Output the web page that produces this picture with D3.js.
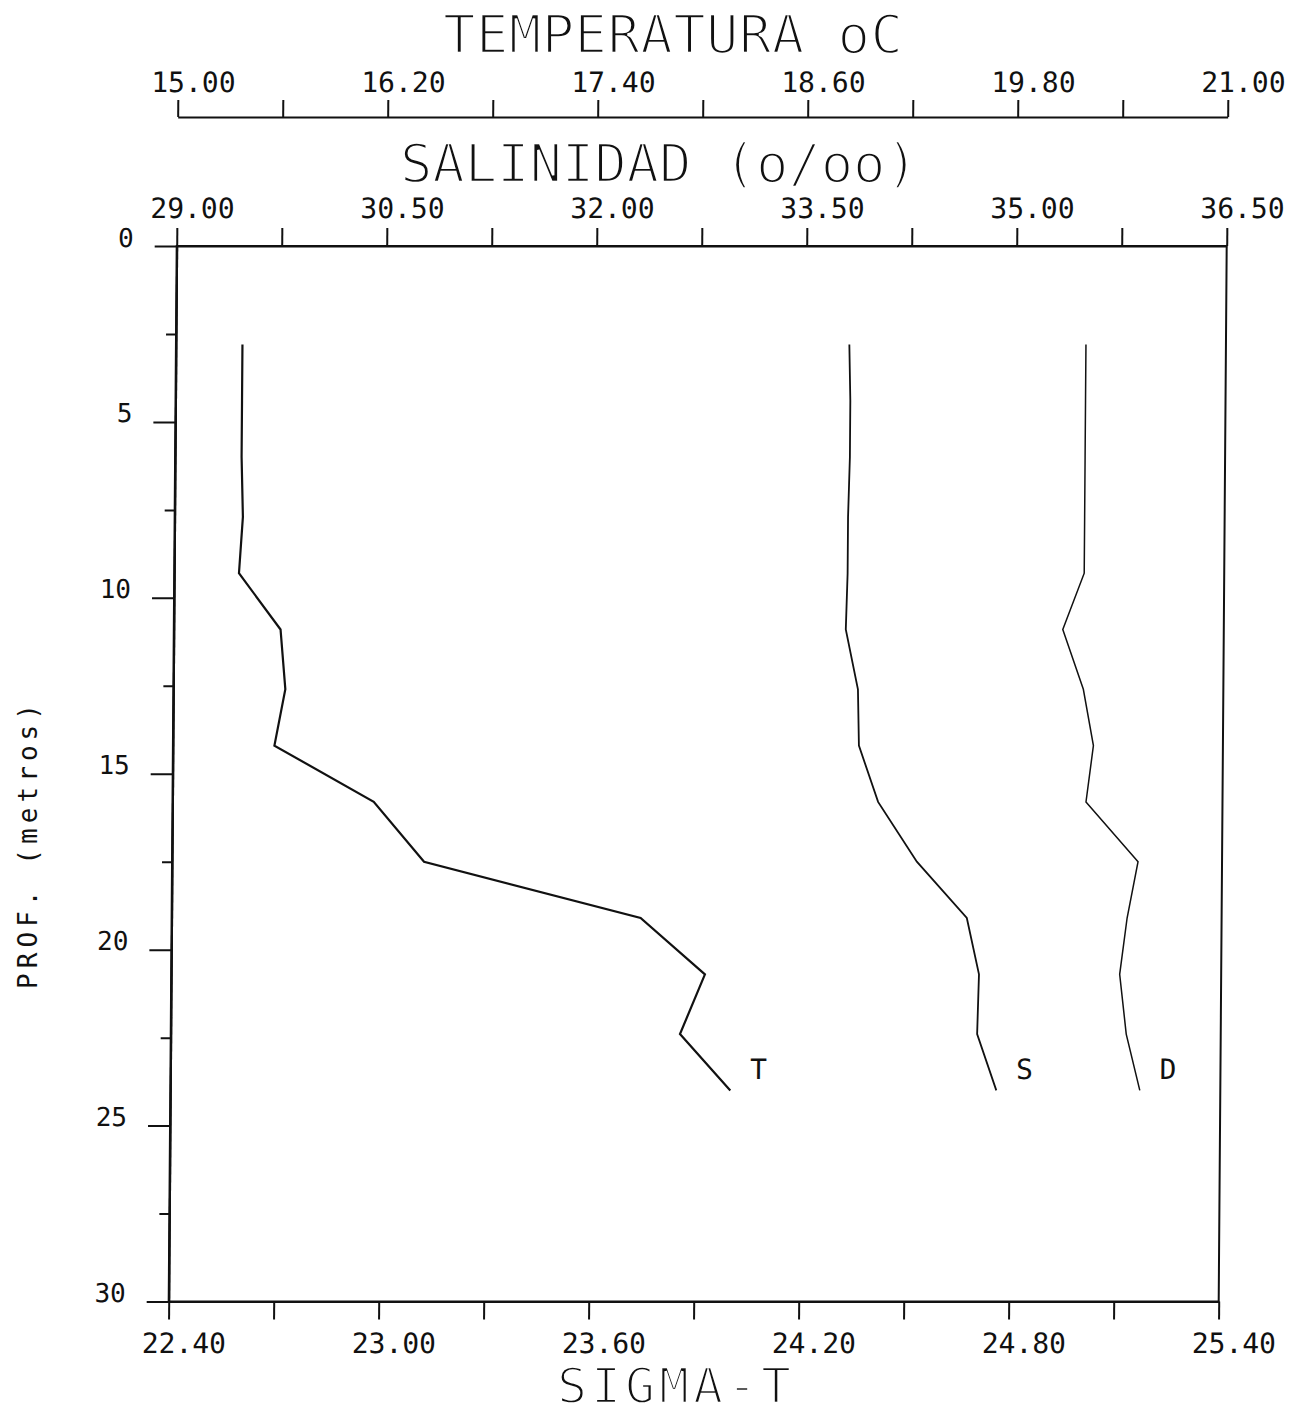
<!DOCTYPE html>
<html lang="es">
<head>
<meta charset="utf-8">
<title>Perfil de temperatura, salinidad y sigma-t</title>
<style>
  body { margin: 0; background: #fff; }
  svg text { font-family: "DejaVu Sans Mono", monospace; fill: #111; }
</style>
</head>
<body>
<svg id="chart"></svg>
<script src="https://cdn.jsdelivr.net/npm/d3@7"></script>
<script>
// profundidad (m) de cada lectura
var depth = [2.8, 4.4, 6.0, 7.7, 9.3, 10.9, 12.6, 14.2, 15.8, 17.5, 19.1, 20.7, 22.4, 24.0];
// T (oC), S (o/oo), sigma-t
var temperatura = [15.38, 15.38, 15.38, 15.39, 15.37, 15.61, 15.64, 15.58, 16.15, 16.44, 17.68, 18.05, 17.91, 18.20];
var salinidad = [33.81, 33.82, 33.82, 33.81, 33.81, 33.80, 33.89, 33.90, 34.04, 34.32, 34.68, 34.77, 34.76, 34.90];
var sigmaT = [25.00, 25.00, 25.00, 25.00, 25.00, 24.94, 25.00, 25.03, 25.01, 25.16, 25.13, 25.11, 25.13, 25.17];

var tempTicks = [15.00, 15.60, 16.20, 16.80, 17.40, 18.00, 18.60, 19.20, 19.80, 20.40, 21.00];
var salTicks = [29.00, 29.75, 30.50, 31.25, 32.00, 32.75, 33.50, 34.25, 35.00, 35.75, 36.50];
var sigmaTicks = [22.40, 22.70, 23.00, 23.30, 23.60, 23.90, 24.20, 24.50, 24.80, 25.10, 25.40];
var depthTicks = [0, 2.5, 5, 7.5, 10, 12.5, 15, 17.5, 20, 22.5, 25, 27.5, 30];

var width = 1302, height = 1416;
var W = 1050, H = 1055.5;
var marginLeft = 176.7, marginTop = 246;

var svg = d3.select("#chart")
  .attr("width", width)
  .attr("height", height);

// the plotted sheet is slightly skewed: bottom edge sits ~8px left of the top
var skew = Math.atan(-8 / H) * 180 / Math.PI;
var g = svg.append("g")
  .attr("transform", "translate(" + marginLeft + "," + marginTop + ") skewX(" + skew + ")");

var xT = d3.scaleLinear().domain([15, 21]).range([0, W]);
var xS = d3.scaleLinear().domain([29, 36.5]).range([0, W]);
var xD = d3.scaleLinear().domain([22.4, 25.4]).range([0, W]);
var y = d3.scaleLinear().domain([0, 30]).range([0, H]);

var fmt = d3.format(".2f");
function every2(d, i) { return i % 2 ? "" : fmt(d); }

function styleAxis(sel) {
  sel.attr("font-family", "DejaVu Sans Mono").attr("font-size", 28);
  sel.selectAll("path, line").attr("stroke", "#111").attr("stroke-width", 2);
  sel.selectAll("text").attr("fill", "#111");
}

// frame
g.append("rect")
  .attr("x", 0).attr("y", 0)
  .attr("width", W).attr("height", H)
  .attr("fill", "none")
  .attr("stroke", "#111")
  .attr("stroke-width", 2);

// temperatura (top)
var axT = g.append("g")
  .attr("transform", "translate(0,-129)")
  .call(d3.axisTop(xT).tickValues(tempTicks).tickSize(17).tickSizeOuter(0).tickPadding(8).tickFormat(every2));
styleAxis(axT);
axT.selectAll("text").attr("dx", 15);

// salinidad (top of frame)
var axS = g.append("g")
  .call(d3.axisTop(xS).tickValues(salTicks).tickSize(18).tickSizeOuter(0).tickPadding(10).tickFormat(every2));
styleAxis(axS);
axS.selectAll("text").attr("dx", 15);

// sigma-t (bottom)
var axD = g.append("g")
  .attr("transform", "translate(0," + H + ")")
  .call(d3.axisBottom(xD).tickValues(sigmaTicks).tickSize(18).tickSizeOuter(0).tickFormat(every2));
styleAxis(axD);
axD.selectAll("text").attr("dx", 15).attr("dy", 0).attr("y", 52);

// profundidad (left): minor + major ticks
var axMinor = g.append("g")
  .call(d3.axisLeft(y).tickValues(depthTicks.filter(function(d, i) { return i % 2; }))
    .tickSize(10).tickSizeOuter(0).tickFormat(""));
styleAxis(axMinor);
var axMajor = g.append("g")
  .call(d3.axisLeft(y).tickValues(depthTicks.filter(function(d, i) { return !(i % 2); }))
    .tickSize(22).tickSizeOuter(0).tickPadding(21).tickFormat(d3.format("d")));
styleAxis(axMajor);
axMajor.attr("font-size", 26);
axMajor.selectAll("text").attr("dy", 0);

// perfiles
var series = [
  { key: "T", vals: temperatura, x: xT, w: 2.2 },
  { key: "S", vals: salinidad, x: xS, w: 1.8 },
  { key: "D", vals: sigmaT, x: xD, w: 1.5 }
];

series.forEach(function(s) {
  var pts = depth.map(function(d, i) { return [d, s.vals[i]]; });
  var line = d3.line()
    .x(function(p) { return s.x(p[1]); })
    .y(function(p) { return y(p[0]); });
  g.append("path")
    .datum(pts)
    .attr("d", line)
    .attr("fill", "none")
    .attr("stroke", "#111")
    .attr("stroke-width", s.w)
    .attr("stroke-linejoin", "miter");
  var last = pts[pts.length - 1];
  g.append("text")
    .attr("x", s.x(last[1]) + 28)
    .attr("y", y(last[0]) - 11)
    .attr("text-anchor", "middle")
    .attr("font-size", 28)
    .text(s.key);
});

// titles (thin plotter lettering: white stroke erodes the glyphs)
function title(txt, cx, by, len, size) {
  return svg.append("text")
    .attr("x", cx - len / 2)
    .attr("y", by)
    .attr("font-size", size)
    .attr("textLength", len)
    .attr("lengthAdjust", "spacing")
    .attr("stroke", "#fff")
    .attr("stroke-width", 2.4)
    .text(txt);
}
title("TEMPERATURA oC", 673, 53, 460, 54);
title("SALINIDAD (o/oo)", 659, 182, 518, 54);
title("SIGMA-T", 674, 1403, 234, 50);

svg.append("text")
  .attr("transform", "translate(37,847) rotate(-90)")
  .attr("x", -142)
  .attr("font-size", 26)
  .attr("textLength", 285)
  .attr("lengthAdjust", "spacing")
  .text("PROF. (metros)");
</script>
</body>
</html>
